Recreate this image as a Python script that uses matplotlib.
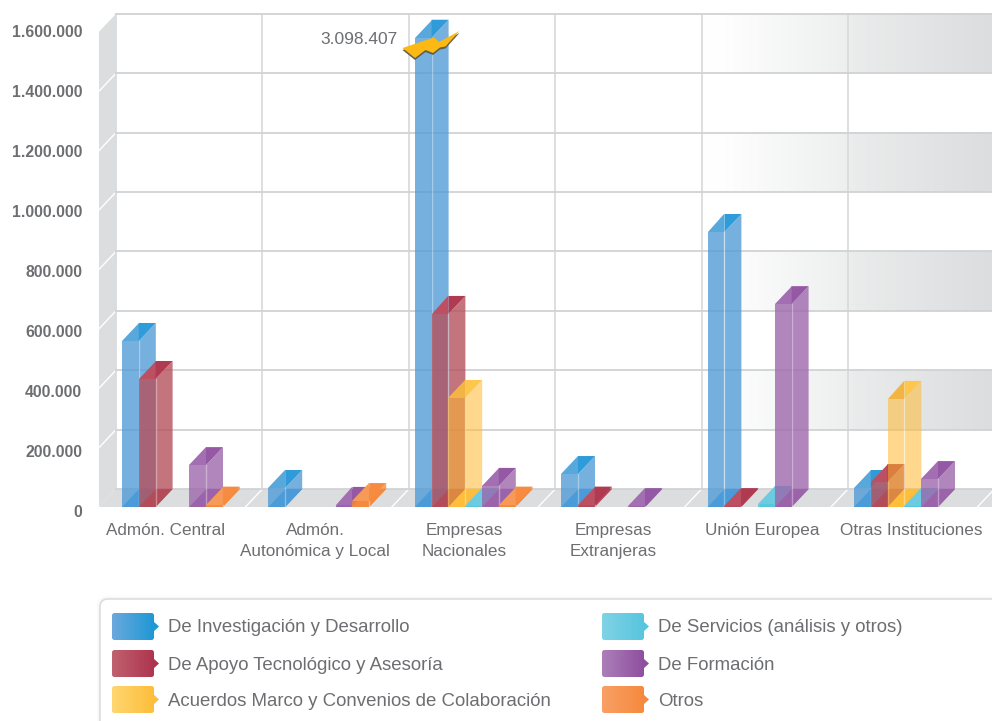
import numpy as np
import matplotlib
matplotlib.use('Agg')
from matplotlib import pyplot as plt
from matplotlib.colors import LinearSegmentedColormap
from matplotlib.patches import FancyBboxPatch, Polygon

plt.rcParams['font.family'] = ['Liberation Sans', 'DejaVu Sans']

categories = ['Admón. Central', 'Admón.\nAutonómica y Local', 'Empresas\nNacionales',
              'Empresas\nExtranjeras', 'Unión Europea', 'Otras Instituciones']
series = ['De Investigación y Desarrollo', 'De Apoyo Tecnológico y Asesoría',
          'Acuerdos Marco y Convenios de Colaboración', 'De Servicios (análisis y otros)',
          'De Formación', 'Otros']

investigacion = [559000, 64000, 3098407, 111000, 926000, 64000]
apoyo = [431000, 0, 650000, 8000, 3000, 84000]
acuerdos = [0, 0, 367000, 0, 0, 364000]
servicios = [0, 0, 2000, 0, 10000, 3000]
formacion = [141000, 7000, 71000, 3000, 683000, 94000]
otros = [8000, 20000, 8000, 0, 0, 0]
values = [investigacion, apoyo, acuerdos, servicios, formacion, otros]

y_ticks = [0, 200000, 400000, 600000, 800000, 1000000, 1200000, 1400000, 1600000]
broken_value = 3098407
broken_height = 1580000  # the tall bar is cut here, with the bolt on top

# colours: face, top left, top right / floor, legend left, legend right
face = ['#529CD7', '#B5515C', '#FFB92F', '#59C7DD', '#9D68AC', '#F58A3D']
face_alpha = [0.8, 0.8, 0.55, 0.8, 0.8, 0.8]
top_l = ['#58A8DC', '#BC4F62', '#F2B545', '#6CCBE0', '#A36FB2', '#F79A58']
top_r = ['#2F9BD8', '#AF3A52', '#FDC64C', '#5CC6DE', '#9558A5', '#F58C42']
leg_l = ['#6BA9DC', '#C0626F', '#FFD670', '#80D3E5', '#AC7FB9', '#F9A066']
leg_r = ['#1E98D6', '#AE344F', '#FDBE3B', '#58C5DF', '#8F4F9F', '#F58A3D']

GRID = '#D1D2D4'
GRID_V = '#DADBDD'
WALL = '#DCDDDE'
TEXT = '#6D6E71'

PX_X = 146.4          # pixels per group
PX_Y = 59.4 / 200000  # pixels per unit
BW = 16.8 / PX_X
DX = 17 / PX_X
DY = 18 / PX_Y
BACK = -6 / PX_X      # left end of the back wall, first group

fig = plt.figure(figsize=(9.92, 7.21), dpi=100)
fig.patch.set_facecolor('white')
ax = fig.add_axes([99 / 992, (721 - 520) / 721, (992 - 99) / 992, 520 / 721])
ax.set_xlim((99 - 122) / PX_X, (992 - 122) / PX_X)
ax.set_ylim(-13 / PX_Y, 507 / PX_Y)
xl, yl = ax.get_xlim(), ax.get_ylim()

# shaded bands on the back wall
band_cmap = LinearSegmentedColormap.from_list(
    'band', [(0, '#FFFFFF'), (0.08, '#FEFEFE'), (0.49, '#EEEFEF'), (0.53, '#EAEBEB'), (1, '#DCDDDF')])
grad = np.linspace(0, 1, 256).reshape(1, -1)
band_x0 = BACK + 4
band_x1 = xl[1]
for low in [200000, 600000, 1000000, 1400000]:
    ax.imshow(grad, extent=[band_x0, band_x1, low + DY, low + 200000 + DY], cmap=band_cmap,
              aspect='auto', zorder=0, vmin=0, vmax=1)

# floor and left wall
ax.fill([xl[0], xl[0] + DX, 8, 8], [0, DY, DY, 0], color=WALL, lw=0, zorder=1)
ax.fill([xl[0], xl[0] + DX, xl[0] + DX, xl[0]], [0, DY, 1600000 + DY, 1600000], color=WALL, lw=0, zorder=1)
for v in y_ticks[1:-1]:
    ax.plot([xl[0], xl[0] + DX], [v, v + DY], color='white', lw=1, zorder=2)
for i in range(7):
    ax.plot([BACK + i, BACK + i], [DY, 1600000 + DY], color=GRID_V, lw=1.3, zorder=2)
    if i > 0:
        ax.plot([BACK + i - DX, BACK + i], [0, DY], color='white', lw=1, zorder=2)
for v in y_ticks:
    ax.plot([BACK, 7], [v + DY, v + DY], color=GRID, lw=1.3, zorder=2)

# 3d bars, left to right so each one lies over its neighbour's side
z = 3
for g in range(len(categories)):
    for s in range(len(series)):
        v = values[s][g]
        if v <= 0:
            continue
        h = broken_height if v == broken_value else v
        x = g + s * BW
        # floor
        ax.fill([x, x + BW, x + BW + DX, x + DX], [0, 0, DY, DY], color=top_r[s], lw=0, zorder=z)
        # side
        ax.fill([x + BW, x + BW + DX, x + BW + DX, x + BW], [0, DY, h + DY, h],
                facecolor=face[s], alpha=face_alpha[s], edgecolor='none', zorder=z + 0.1)
        # top
        ax.fill([x, x + BW, x + BW], [h, h, h + DY], color=top_l[s], lw=0, zorder=z + 0.2)
        ax.fill([x + BW, x + BW + DX, x + BW], [h, h + DY, h + DY], color=top_r[s], lw=0, zorder=z + 0.2)
        # front
        ax.bar(x, h, width=BW, align='edge', color=face[s], alpha=face_alpha[s], lw=0, zorder=z + 0.3)
        ax.plot([x + BW, x + BW], [0, h], color='white', alpha=0.35, lw=1, zorder=z + 0.4)
        z += 1

for sp in ax.spines.values():
    sp.set_visible(False)
ax.set_xticks([(166 + 149 * i - 122) / PX_X for i in range(len(categories))])
ax.set_xticklabels(categories, fontsize=12.3, color=TEXT, linespacing=1.42, va='top')
ax.tick_params(axis='x', length=0, pad=2.5)
ax.set_yticks([])

# value labels sit on a slightly wider scale than the wall
ax_y = ax.twinx()
ax_y.set_ylim((511 - 520) / 60 * 200000, 511 / 60 * 200000)
ax_y.yaxis.tick_left()
ax_y.set_yticks(y_ticks)
ax_y.set_yticklabels([f'{v:,}'.replace(',', '.') for v in y_ticks], fontsize=11.3,
                     fontweight='bold', color=TEXT)
ax_y.tick_params(axis='y', length=0, pad=12)
for sp in ax_y.spines.values():
    sp.set_visible(False)
ax_y.patch.set_visible(False)

# overlay in picture pixels: bolt and legend
top = fig.add_axes([0, 0, 1, 1], zorder=5)
top.set_axis_off()
top.patch.set_visible(False)

bolt = [(402.5, 48), (434, 37.5), (439, 42), (459.5, 31), (445.5, 46.5), (440, 47.5),
        (433, 53), (425.5, 50), (415, 58)]
top.add_patch(Polygon([(a, b + 2) for a, b in bolt], closed=True, fc='#5F5F50', ec='none', zorder=2))
top.add_patch(Polygon(bolt, closed=True, fc='#FDB913', ec='none', zorder=3))
top.text(398, 39, f'{broken_value:,}'.replace(',', '.'), ha='right', va='center', fontsize=12.5, color=TEXT)

for k in range(1, 4):
    top.add_patch(FancyBboxPatch((100 - k * 0.5, 599 - k * 0.5), 1000, 200, boxstyle='round,pad=0,rounding_size=8',
                                 fc='none', ec='#000000', alpha=0.012, lw=1 + k * 0.5, zorder=4))
top.add_patch(FancyBboxPatch((100, 599), 1000, 200, boxstyle='round,pad=0,rounding_size=8',
                             fc='white', ec='#DADBDD', lw=1.1, zorder=5))

legend_x = [112, 602]
legend_y = [613, 650, 686]
for s, name in enumerate(series):
    col, row = s // 3, s % 3
    lx, ly = legend_x[col], legend_y[row]
    cmap = LinearSegmentedColormap.from_list('sw', [leg_l[s], leg_r[s]])
    top.add_patch(Polygon([(lx + 41, ly + 8), (lx + 47, ly + 13.5), (lx + 41, ly + 19)], closed=True,
                          fc=leg_r[s], ec='none', zorder=6))
    clip = FancyBboxPatch((lx, ly), 42, 27, boxstyle='round,pad=0,rounding_size=2.5',
                          fc='none', ec='none', zorder=6)
    top.add_patch(clip)
    im = top.imshow(grad, extent=[lx, lx + 42, ly + 27, ly], cmap=cmap, aspect='auto', zorder=7)
    im.set_clip_path(clip)
    top.text(lx + 56, ly + 15, name, ha='left', va='center', fontsize=13.4, color=TEXT, zorder=8)

top.set_xlim(0, 992)
top.set_ylim(721, 0)

plt.savefig('out.png', dpi=100)
